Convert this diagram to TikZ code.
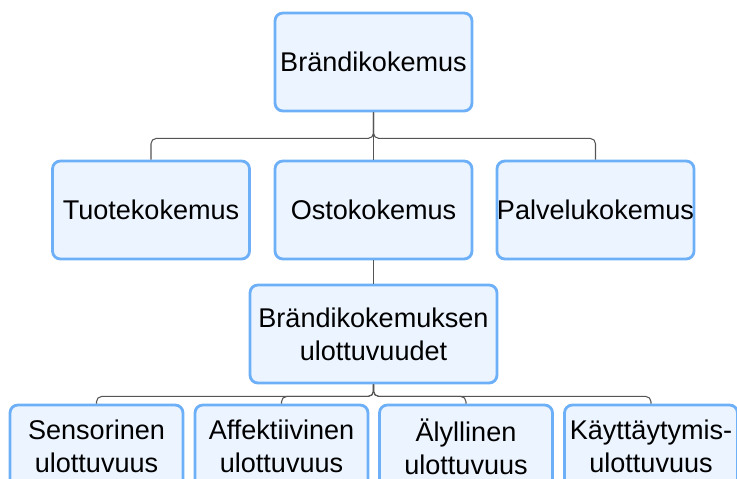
\documentclass[tikz,border=0pt]{standalone}
\usepackage{fontspec}
\setmainfont{Liberation Sans}
\definecolor{boxfill}{HTML}{EBF4FF}
\definecolor{boxline}{HTML}{6EB0F7}
\definecolor{connclr}{HTML}{555555}
\usetikzlibrary{positioning,arrows.meta}

\begin{document}
\begin{tikzpicture}[
  every node/.style={font=\fontsize{15.4}{18.8}\selectfont},
  box/.style={rectangle, rounded corners=4.5pt, draw=boxline, fill=boxfill,
              line width=1.6pt, minimum width=3.94cm, minimum height=1.96cm,
              align=center, inner xsep=0pt, inner ysep=2pt},
  subbox/.style={box, minimum width=3.46cm, minimum height=1.66cm},
  conn/.style={draw=connclr, line width=0.6pt, rounded corners=3pt}
]
  \useasboundingbox (0,0) rectangle (14.74,-9.58);

  \node[box] (brand) at (7.47,-1.24) {Brändikokemus};

  \node[box] (tuote)    at (3.02,-4.20) {Tuotekokemus};
  \node[box] (osto)     at (7.47,-4.20) {Ostokokemus};
  \node[box] (palvelu)  at (11.91,-4.20) {Palvelukokemus};

  \node[box, minimum width=4.94cm] (ulott) at (7.47,-6.68)
    {Brändikokemuksen\\ulottuvuudet};

  \node[subbox] (sens) at (1.93,-8.93) {Sensorinen\\ulottuvuus};
  \node[subbox] (affe) at (5.63,-8.93) {Affektiivinen\\ulottuvuus};
  \node[subbox] (alyl) at (9.32,-8.93) {Älyllinen\\ulottuvuus};
  \node[subbox] (kayt) at (13.02,-8.93) {Käyttäytymis-\\ulottuvuus};

  % first level
  \draw[conn] (brand.south) -- ++(0,-0.52) -| (tuote.north);
  \draw[conn] (brand.south) -- ++(0,-0.52) -| (palvelu.north);
  \draw[conn] (brand.south) -- (osto.north);

  % second level
  \draw[conn] (osto.south) -- (ulott.north);
  \draw[conn] (ulott.south) -- ++(0,-0.24) -| (sens.north);
  \draw[conn] (ulott.south) -- ++(0,-0.24) -| (affe.north);
  \draw[conn] (ulott.south) -- ++(0,-0.24) -| (alyl.north);
  \draw[conn] (ulott.south) -- ++(0,-0.24) -| (kayt.north);
\end{tikzpicture}
\end{document}
